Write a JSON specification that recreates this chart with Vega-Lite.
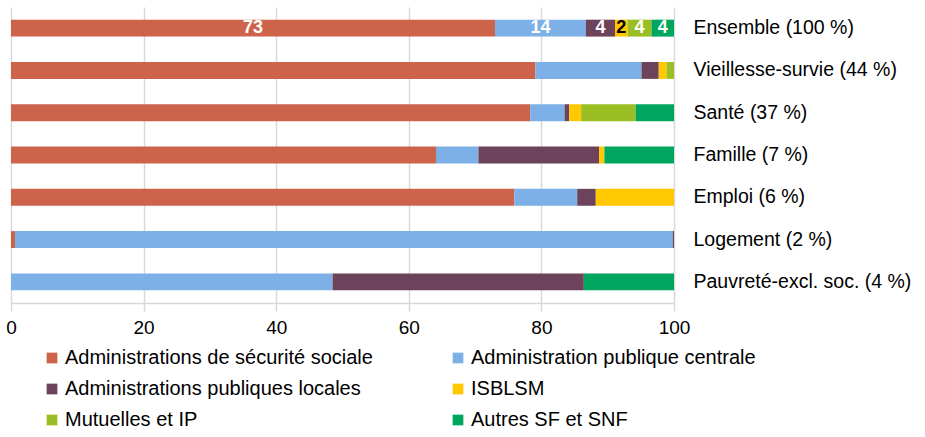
{
  "$schema": "https://vega.github.io/schema/vega-lite/v6.json",
  "width": 663,
  "height": 296,
  "padding": {"left": 11, "top": 7, "right": 251, "bottom": 134},
  "autosize": {"type": "none"},
  "background": "white",
  "config": {
    "font": "Liberation Sans",
    "view": {"stroke": null}
  },
  "data": {
    "values": [
      {"cat": "Ensemble (100 %)", "series": "Administrations de sécurité sociale", "k": 1, "value": 73.0, "label": "73"},
      {"cat": "Ensemble (100 %)", "series": "Administration publique centrale", "k": 2, "value": 13.7, "label": "14"},
      {"cat": "Ensemble (100 %)", "series": "Administrations publiques locales", "k": 3, "value": 4.4, "label": "4"},
      {"cat": "Ensemble (100 %)", "series": "ISBLSM", "k": 4, "value": 1.9, "label": "2"},
      {"cat": "Ensemble (100 %)", "series": "Mutuelles et IP", "k": 5, "value": 3.6, "label": "4"},
      {"cat": "Ensemble (100 %)", "series": "Autres SF et SNF", "k": 6, "value": 3.4, "label": "4"},
      {"cat": "Vieillesse-survie (44 %)", "series": "Administrations de sécurité sociale", "k": 1, "value": 79.1},
      {"cat": "Vieillesse-survie (44 %)", "series": "Administration publique centrale", "k": 2, "value": 16.0},
      {"cat": "Vieillesse-survie (44 %)", "series": "Administrations publiques locales", "k": 3, "value": 2.6},
      {"cat": "Vieillesse-survie (44 %)", "series": "ISBLSM", "k": 4, "value": 1.2},
      {"cat": "Vieillesse-survie (44 %)", "series": "Mutuelles et IP", "k": 5, "value": 1.1},
      {"cat": "Vieillesse-survie (44 %)", "series": "Autres SF et SNF", "k": 6, "value": 0},
      {"cat": "Santé (37 %)", "series": "Administrations de sécurité sociale", "k": 1, "value": 78.3},
      {"cat": "Santé (37 %)", "series": "Administration publique centrale", "k": 2, "value": 5.2},
      {"cat": "Santé (37 %)", "series": "Administrations publiques locales", "k": 3, "value": 0.7},
      {"cat": "Santé (37 %)", "series": "ISBLSM", "k": 4, "value": 1.8},
      {"cat": "Santé (37 %)", "series": "Mutuelles et IP", "k": 5, "value": 8.2},
      {"cat": "Santé (37 %)", "series": "Autres SF et SNF", "k": 6, "value": 5.8},
      {"cat": "Famille (7 %)", "series": "Administrations de sécurité sociale", "k": 1, "value": 64.1},
      {"cat": "Famille (7 %)", "series": "Administration publique centrale", "k": 2, "value": 6.4},
      {"cat": "Famille (7 %)", "series": "Administrations publiques locales", "k": 3, "value": 18.2},
      {"cat": "Famille (7 %)", "series": "ISBLSM", "k": 4, "value": 0.8},
      {"cat": "Famille (7 %)", "series": "Mutuelles et IP", "k": 5, "value": 0},
      {"cat": "Famille (7 %)", "series": "Autres SF et SNF", "k": 6, "value": 10.5},
      {"cat": "Emploi (6 %)", "series": "Administrations de sécurité sociale", "k": 1, "value": 75.9},
      {"cat": "Emploi (6 %)", "series": "Administration publique centrale", "k": 2, "value": 9.5},
      {"cat": "Emploi (6 %)", "series": "Administrations publiques locales", "k": 3, "value": 2.8},
      {"cat": "Emploi (6 %)", "series": "ISBLSM", "k": 4, "value": 11.8},
      {"cat": "Emploi (6 %)", "series": "Mutuelles et IP", "k": 5, "value": 0},
      {"cat": "Emploi (6 %)", "series": "Autres SF et SNF", "k": 6, "value": 0},
      {"cat": "Logement (2 %)", "series": "Administrations de sécurité sociale", "k": 1, "value": 0.6},
      {"cat": "Logement (2 %)", "series": "Administration publique centrale", "k": 2, "value": 99.2},
      {"cat": "Logement (2 %)", "series": "Administrations publiques locales", "k": 3, "value": 0.2},
      {"cat": "Logement (2 %)", "series": "ISBLSM", "k": 4, "value": 0},
      {"cat": "Logement (2 %)", "series": "Mutuelles et IP", "k": 5, "value": 0},
      {"cat": "Logement (2 %)", "series": "Autres SF et SNF", "k": 6, "value": 0},
      {"cat": "Pauvreté-excl. soc. (4 %)", "series": "Administrations de sécurité sociale", "k": 1, "value": 0},
      {"cat": "Pauvreté-excl. soc. (4 %)", "series": "Administration publique centrale", "k": 2, "value": 48.5},
      {"cat": "Pauvreté-excl. soc. (4 %)", "series": "Administrations publiques locales", "k": 3, "value": 37.9},
      {"cat": "Pauvreté-excl. soc. (4 %)", "series": "ISBLSM", "k": 4, "value": 0},
      {"cat": "Pauvreté-excl. soc. (4 %)", "series": "Mutuelles et IP", "k": 5, "value": 0},
      {"cat": "Pauvreté-excl. soc. (4 %)", "series": "Autres SF et SNF", "k": 6, "value": 13.6}
    ]
  },
  "encoding": {
    "y": {
      "field": "cat",
      "type": "nominal",
      "sort": ["Ensemble (100 %)", "Vieillesse-survie (44 %)", "Santé (37 %)", "Famille (7 %)", "Emploi (6 %)", "Logement (2 %)", "Pauvreté-excl. soc. (4 %)"],
      "scale": {"paddingInner": 0.6, "paddingOuter": 0.3},
      "axis": {
        "orient": "right",
        "title": null,
        "domain": false,
        "ticks": false,
        "labelPadding": 19,
        "labelFontSize": 19.5,
        "labelColor": "#000000",
        "labelFont": "Liberation Sans",
        "labelLimit": 300
      }
    },
    "x": {
      "field": "value",
      "type": "quantitative",
      "stack": "zero",
      "scale": {"domain": [0, 100], "nice": false},
      "axis": {
        "title": null,
        "values": [0, 20, 40, 60, 80, 100],
        "grid": true,
        "gridColor": "#d9d9d9",
        "gridWidth": 1.5,
        "domainColor": "#d9d9d9",
        "domainWidth": 1.5,
        "tickColor": "#d9d9d9",
        "tickWidth": 1.5,
        "tickSize": 8,
        "labelPadding": 7,
        "labelFlush": false,
        "labelFontSize": 19,
        "labelColor": "#000000",
        "labelFont": "Liberation Sans"
      }
    },
    "order": {"field": "k", "type": "quantitative"}
  },
  "layer": [
    {
      "mark": {"type": "bar"},
      "encoding": {
        "color": {
          "field": "series",
          "type": "nominal",
          "sort": ["Administrations de sécurité sociale", "Administration publique centrale", "Administrations publiques locales", "ISBLSM", "Mutuelles et IP", "Autres SF et SNF"],
          "scale": {
            "domain": ["Administrations de sécurité sociale", "Administration publique centrale", "Administrations publiques locales", "ISBLSM", "Mutuelles et IP", "Autres SF et SNF"],
            "range": ["#CE634B", "#7DB0E7", "#6C435B", "#FFC800", "#9BBF22", "#00A65D"]
          },
          "legend": {
            "title": null,
            "orient": "none",
            "legendX": 31,
            "legendY": 341,
            "columns": 2,
            "direction": "horizontal",
            "symbolType": "square",
            "symbolSize": 115,
            "symbolStrokeWidth": 0,
            "labelFontSize": 20,
            "labelColor": "#000000",
            "labelFont": "Liberation Sans",
            "labelLimit": 400,
            "labelOffset": 3,
            "rowPadding": 11,
            "columnPadding": 75
          }
        }
      }
    },
    {
      "transform": [{"filter": "datum.cat === 'Ensemble (100 %)'"}],
      "mark": {"type": "text", "fontWeight": "bold", "fontSize": 18, "baseline": "middle", "align": "center", "font": "Liberation Sans"},
      "encoding": {
        "x": {"field": "value", "type": "quantitative", "stack": "zero", "bandPosition": 0.5},
        "text": {"field": "label"},
        "color": {
          "condition": {"test": "datum.series === 'ISBLSM'", "value": "#000000"},
          "value": "#ffffff"
        }
      }
    }
  ]
}
